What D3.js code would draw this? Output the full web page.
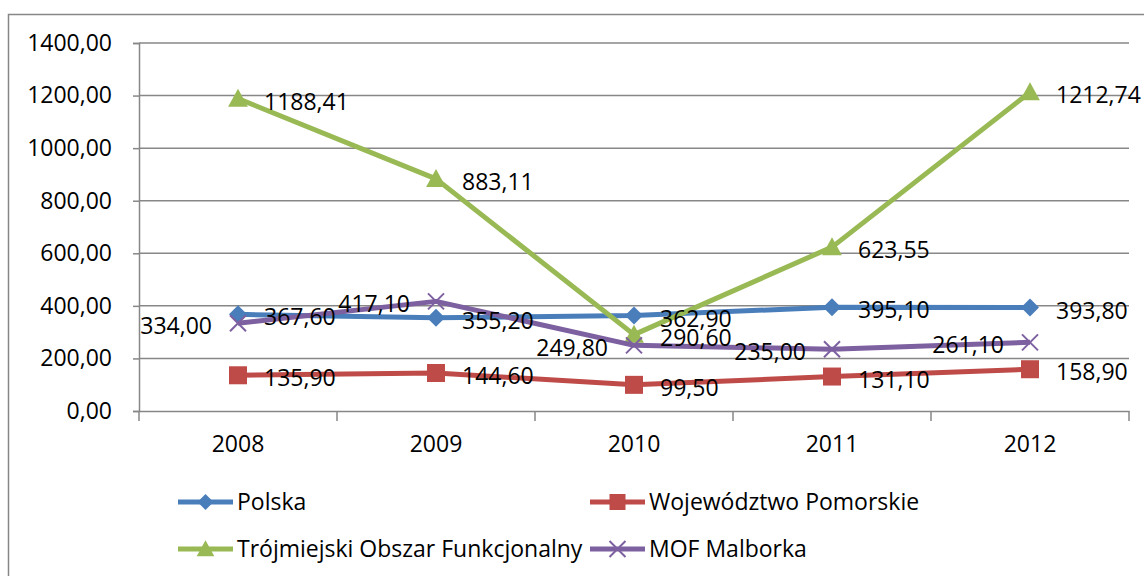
<!DOCTYPE html>
<html>
<head>
<meta charset="utf-8">
<script src="https://cdn.jsdelivr.net/npm/d3@7"></script>
<style>
  body { margin: 0; background: #fff; }
  svg text { font-family: "Open Sans", "Noto Sans", sans-serif; fill: #000; }
</style>
</head>
<body>
<svg id="chart" width="1144" height="576"></svg>
<script>
// data
const years = ["2008", "2009", "2010", "2011", "2012"];
const polska = [367.6, 355.2, 362.9, 395.1, 393.8];
const pomorskie = [135.9, 144.6, 99.5, 131.1, 158.9];
const trojmiejski = [1188.41, 883.11, 290.6, 623.55, 1212.74];
const malbork = [334.0, 417.1, 249.8, 235.0, 261.1];
const yTicks = [0, 200, 400, 600, 800, 1000, 1200, 1400];

const series = [
  { name: "Polska", values: polska, color: "#4a7ebb", marker: "diamond", labelSide: "right" },
  { name: "Województwo Pomorskie", values: pomorskie, color: "#be4b48", marker: "square", labelSide: "right" },
  { name: "Trójmiejski Obszar Funkcjonalny", values: trojmiejski, color: "#98b954", marker: "triangle", labelSide: "right" },
  { name: "MOF Malborka", values: malbork, color: "#7d60a0", marker: "cross", labelSide: "left" }
];

const pl = d3.formatLocale({ decimal: ",", thousands: " ", grouping: [3], currency: ["", " zł"] });
const fmt = pl.format(".2f");

const margin = { top: 43, right: 15, bottom: 165, left: 139 };
const W = 1144, H = 576;
const w = W - margin.left - margin.right;
const h = H - margin.top - margin.bottom;

const svg = d3.select("#chart");

// outer chart border
svg.append("rect")
  .attr("x", 8.5).attr("y", 14.5)
  .attr("width", 1150).attr("height", 600)
  .attr("fill", "none")
  .attr("stroke", "#878787")
  .attr("stroke-width", 1.5);

const g = svg.append("g")
  .attr("transform", `translate(${margin.left},${margin.top})`);

const x = d3.scaleBand().domain(years).range([0, w]);
const y = d3.scaleLinear().domain([0, 1400]).range([h, 0]);

// gridlines
g.append("g").selectAll("line")
  .data(yTicks.filter(d => d > 0))
  .enter().append("line")
  .attr("x1", 0).attr("x2", w)
  .attr("y1", d => y(d)).attr("y2", d => y(d))
  .attr("stroke", "#878787")
  .attr("stroke-width", 1.5);

// y axis
const yAxis = g.append("g")
  .call(d3.axisLeft(y).tickValues(yTicks).tickSize(6).tickPadding(21).tickFormat(fmt));
yAxis.selectAll("path, line").attr("stroke", "#878787").attr("stroke-width", 1.5);
yAxis.selectAll("text").style("font-size", "23px");

// x axis
const xAxis = g.append("g")
  .attr("transform", `translate(0,${h})`)
  .call(d3.axisBottom(x).tickSize(0).tickPadding(25).tickSizeOuter(0));
xAxis.select(".domain").attr("stroke", "#878787").attr("stroke-width", 1.5);
xAxis.selectAll("text").style("font-size", "23px");

// category boundary ticks
const bounds = years.map(d => x(d)).concat([x(years[years.length - 1]) + x.bandwidth()]);
xAxis.selectAll(".bound")
  .data(bounds)
  .enter().append("line")
  .attr("class", "bound")
  .attr("x1", d => d).attr("x2", d => d)
  .attr("y1", 0).attr("y2", 10)
  .attr("stroke", "#878787")
  .attr("stroke-width", 1.5);

const cx = i => x(years[i]) + x.bandwidth() / 2;

function drawMarker(sel, type, color, s) {
  if (type === "diamond") {
    sel.append("path").attr("d", `M0,${-s}L${s},0L0,${s}L${-s},0Z`).attr("fill", color);
  } else if (type === "square") {
    sel.append("rect").attr("x", -s).attr("y", -s).attr("width", 2 * s).attr("height", 2 * s).attr("fill", color);
  } else if (type === "triangle") {
    sel.append("path").attr("d", `M0,${-s * 1.1}L${s * 1.1},${s * 0.9}L${-s * 1.1},${s * 0.9}Z`).attr("fill", color);
  } else {
    sel.append("path").attr("d", `M${-s},${-s}L${s},${s}M${-s},${s}L${s},${-s}`)
      .attr("stroke", color).attr("stroke-width", 2).attr("fill", "none");
  }
}

const line = d3.line()
  .x((d, i) => cx(i))
  .y(d => y(d));

series.forEach(s => {
  const sg = g.append("g");
  sg.append("path")
    .datum(s.values)
    .attr("d", line)
    .attr("fill", "none")
    .attr("stroke", s.color)
    .attr("stroke-width", 5)
    .attr("stroke-linejoin", "round");
  sg.selectAll(".m")
    .data(s.values)
    .enter().append("g")
    .attr("transform", (d, i) => `translate(${cx(i)},${y(d)})`)
    .each(function () { drawMarker(d3.select(this), s.marker, s.color, s.marker === "cross" ? 8 : 9); });
});

// data labels
series.forEach(s => {
  g.append("g").selectAll("text")
    .data(s.values)
    .enter().append("text")
    .attr("x", (d, i) => s.labelSide === "right" ? cx(i) + 26 : cx(i) - 26)
    .attr("y", d => y(d) + 3)
    .attr("dy", "0.35em")
    .attr("text-anchor", s.labelSide === "right" ? "start" : "end")
    .style("font-size", "23px")
    .text(d => fmt(d));
});

// legend
const legendPos = [[178, 502], [590, 502], [178, 549], [590, 549]];
series.forEach((s, i) => {
  const lg = svg.append("g").attr("transform", `translate(${legendPos[i][0]},${legendPos[i][1]})`);
  lg.append("line")
    .attr("x1", 0).attr("x2", 55)
    .attr("y1", 0).attr("y2", 0)
    .attr("stroke", s.color)
    .attr("stroke-width", 5);
  const mg = lg.append("g").attr("transform", "translate(27.5,0)");
  drawMarker(mg, s.marker, s.color, 8);
  lg.append("text")
    .attr("x", 59)
    .attr("dy", "0.35em")
    .style("font-size", "23px")
    .text(s.name);
});
</script>
</body>
</html>
